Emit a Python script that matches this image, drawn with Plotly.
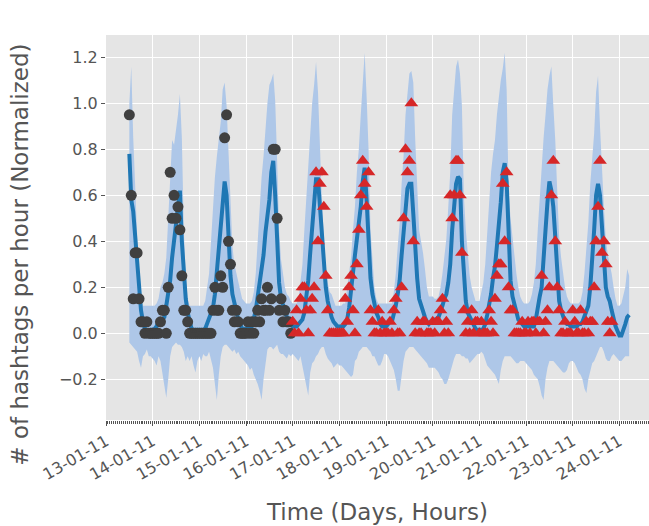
import plotly.graph_objects as go
import pandas as pd

# ---------------- data ----------------
# hourly series starting 2011-01-13 12:00
mean_vals = [
    # 13-01 (12h-23h)
    0.78, 0.58, 0.53, 0.42, 0.28, 0.17, 0.10, 0.05, 0.02, 0.015, 0.01, 0.015,
    # 14-01
    0.015, 0.02, 0.03, 0.05, 0.06, 0.06, 0.07, 0.12, 0.17, 0.23, 0.33, 0.40,
    0.46, 0.55, 0.62, 0.40, 0.26, 0.15, 0.09, 0.05, 0.02, 0.015, 0.015, 0.015,
    # 15-01
    0.015, 0.015, 0.015, 0.02, 0.04, 0.06, 0.08, 0.11, 0.17, 0.27, 0.37, 0.46,
    0.55, 0.66, 0.60, 0.41, 0.25, 0.17, 0.13, 0.09, 0.06, 0.04, 0.02, 0.02,
    # 16-01
    0.02, 0.02, 0.02, 0.03, 0.06, 0.10, 0.16, 0.22, 0.28, 0.34, 0.44, 0.50,
    0.58, 0.70, 0.75, 0.60, 0.38, 0.22, 0.15, 0.12, 0.09, 0.07, 0.05, 0.04,
    # 17-01
    0.03, 0.03, 0.03, 0.04, 0.05, 0.06, 0.09, 0.15, 0.23, 0.35, 0.46, 0.58,
    0.67, 0.67, 0.54, 0.43, 0.28, 0.20, 0.14, 0.10, 0.07, 0.05, 0.04, 0.03,
    # 18-01
    0.03, 0.03, 0.03, 0.04, 0.06, 0.11, 0.20, 0.26, 0.34, 0.41, 0.48, 0.55,
    0.66, 0.72, 0.58, 0.41, 0.24, 0.17, 0.12, 0.09, 0.07, 0.04, 0.03, 0.03,
    # 19-01
    0.03, 0.04, 0.05, 0.05, 0.08, 0.12, 0.17, 0.23, 0.34, 0.43, 0.55, 0.63,
    0.65, 0.65, 0.52, 0.35, 0.24, 0.15, 0.12, 0.09, 0.07, 0.05, 0.04, 0.05,
    # 20-01
    0.05, 0.06, 0.06, 0.07, 0.09, 0.12, 0.15, 0.17, 0.22, 0.30, 0.45, 0.58,
    0.65, 0.68, 0.67, 0.40, 0.25, 0.14, 0.09, 0.07, 0.05, 0.03, 0.02, 0.015,
    # 21-01
    0.015, 0.015, 0.02, 0.04, 0.08, 0.12, 0.17, 0.24, 0.29, 0.38, 0.47, 0.57,
    0.70, 0.74, 0.66, 0.38, 0.23, 0.16, 0.12, 0.09, 0.06, 0.05, 0.04, 0.03,
    # 22-01
    0.03, 0.03, 0.03, 0.03, 0.03, 0.06, 0.12, 0.16, 0.20, 0.30, 0.45, 0.57,
    0.66, 0.62, 0.55, 0.42, 0.26, 0.14, 0.10, 0.07, 0.05, 0.04, 0.04, 0.03,
    # 23-01
    0.03, 0.03, 0.03, 0.04, 0.04, 0.05, 0.07, 0.10, 0.12, 0.20, 0.30, 0.45,
    0.60, 0.65, 0.60, 0.44, 0.30, 0.20, 0.16, 0.14, 0.10, 0.06, 0.03, 0.01,
    # 24-01 (0h-5h)
    -0.01, -0.01, 0.01, 0.04, 0.07, 0.08,
]

upper_vals = [
    1.00, 1.16, 0.85, 0.62, 0.45, 0.22, 0.15, 0.12, 0.12, 0.12, 0.12, 0.12,
    0.12, 0.12, 0.13, 0.15, 0.20, 0.22, 0.26, 0.33, 0.50, 0.70, 0.84, 0.82,
    0.88, 0.95, 1.04, 0.85, 0.45, 0.25, 0.15, 0.12, 0.12, 0.12, 0.12, 0.12,
    0.12, 0.12, 0.12, 0.14, 0.20, 0.26, 0.40, 0.55, 0.68, 0.77, 0.85, 0.92,
    1.06, 1.09, 0.99, 0.80, 0.55, 0.38, 0.30, 0.26, 0.22, 0.19, 0.15, 0.14,
    0.13, 0.13, 0.13, 0.14, 0.18, 0.26, 0.40, 0.55, 0.68, 0.77, 0.90, 1.00,
    1.08, 1.10, 1.13, 1.01, 0.75, 0.45, 0.32, 0.26, 0.20, 0.17, 0.16, 0.14,
    0.13, 0.13, 0.13, 0.15, 0.24, 0.30, 0.45, 0.60, 0.72, 0.90, 1.00, 1.08,
    1.18, 1.05, 0.80, 0.58, 0.42, 0.28, 0.22, 0.18, 0.17, 0.14, 0.12, 0.12,
    0.12, 0.12, 0.13, 0.13, 0.20, 0.26, 0.33, 0.45, 0.55, 0.70, 0.80, 0.95,
    1.10, 1.22, 1.03, 0.80, 0.45, 0.30, 0.20, 0.15, 0.13, 0.13, 0.13, 0.13,
    0.13, 0.13, 0.13, 0.13, 0.18, 0.26, 0.38, 0.48, 0.65, 0.77, 0.95, 1.06,
    1.13, 1.14, 1.09, 0.84, 0.60, 0.45, 0.40, 0.35, 0.28, 0.20, 0.16, 0.16,
    0.16, 0.15, 0.15, 0.16, 0.20, 0.26, 0.33, 0.41, 0.55, 0.70, 0.95, 1.06,
    1.16, 1.19, 1.13, 0.99, 0.60, 0.45, 0.33, 0.25, 0.20, 0.17, 0.14, 0.14,
    0.14, 0.18, 0.22, 0.30, 0.45, 0.55, 0.70, 0.78, 0.84, 0.95, 1.03, 1.10,
    1.15, 1.22, 1.06, 0.62, 0.50, 0.41, 0.33, 0.26, 0.20, 0.16, 0.14, 0.13,
    0.13, 0.13, 0.14, 0.17, 0.22, 0.30, 0.45, 0.60, 0.70, 0.85, 0.95, 1.06,
    1.12, 1.16, 0.99, 0.84, 0.62, 0.42, 0.33, 0.26, 0.20, 0.16, 0.14, 0.13,
    0.13, 0.13, 0.13, 0.13, 0.14, 0.18, 0.26, 0.38, 0.48, 0.65, 0.75, 0.87,
    1.05, 1.12, 0.90, 0.70, 0.55, 0.41, 0.34, 0.30, 0.26, 0.20, 0.15, 0.12,
    0.12, 0.13, 0.16, 0.20, 0.28, 0.25,
]

lower_vals = [
    -0.04, -0.05, -0.06, -0.07, -0.08, -0.12, -0.15, -0.10, -0.09, -0.07, -0.10, -0.10,
    -0.11, -0.12, -0.14, -0.10, -0.12, -0.18, -0.22, -0.28, -0.20, -0.10, -0.06, -0.05,
    -0.04, -0.05, -0.05, -0.06, -0.08, -0.12, -0.10, -0.12, -0.10, -0.14, -0.17, -0.12,
    -0.10, -0.12, -0.09, -0.10, -0.10, -0.08, -0.12, -0.15, -0.22, -0.29, -0.18, -0.10,
    -0.06, -0.05, -0.05, -0.06, -0.07, -0.08, -0.07, -0.09, -0.08, -0.10, -0.11, -0.12,
    -0.13, -0.14, -0.16, -0.15, -0.18, -0.20, -0.22, -0.25, -0.29, -0.20, -0.12, -0.07,
    -0.06, -0.06, -0.07, -0.06, -0.05, -0.08, -0.09, -0.09, -0.10, -0.11, -0.09, -0.10,
    -0.09, -0.10, -0.11, -0.12, -0.10, -0.14, -0.18, -0.22, -0.27, -0.17, -0.13, -0.12,
    -0.10, -0.09, -0.07, -0.06, -0.06, -0.09, -0.11, -0.12, -0.13, -0.15, -0.14, -0.13,
    -0.14, -0.14, -0.15, -0.16, -0.17, -0.18, -0.19, -0.18, -0.12, -0.11, -0.08, -0.07,
    -0.06, -0.06, -0.06, -0.07, -0.08, -0.10, -0.10, -0.12, -0.14, -0.14, -0.12, -0.09,
    -0.09, -0.10, -0.12, -0.14, -0.16, -0.20, -0.25, -0.25, -0.18, -0.12, -0.08, -0.07,
    -0.06, -0.06, -0.06, -0.07, -0.08, -0.09, -0.10, -0.11, -0.12, -0.13, -0.15, -0.15,
    -0.15, -0.15, -0.16, -0.17, -0.19, -0.20, -0.22, -0.22, -0.20, -0.17, -0.13, -0.11,
    -0.09, -0.09, -0.09, -0.10, -0.10, -0.11, -0.11, -0.13, -0.12, -0.11, -0.10, -0.09,
    -0.09, -0.08, -0.09, -0.12, -0.14, -0.15, -0.16, -0.17, -0.18, -0.20, -0.22, -0.16,
    -0.12, -0.10, -0.10, -0.10, -0.10, -0.11, -0.12, -0.13, -0.13, -0.12, -0.12, -0.12,
    -0.13, -0.14, -0.15, -0.16, -0.18, -0.19, -0.20, -0.23, -0.27, -0.29, -0.20, -0.15,
    -0.12, -0.12, -0.12, -0.13, -0.14, -0.15, -0.16, -0.17, -0.17, -0.16, -0.13, -0.12,
    -0.12, -0.13, -0.15, -0.17, -0.18, -0.20, -0.24, -0.26, -0.20, -0.16, -0.13, -0.12,
    -0.10, -0.08, -0.06, -0.06, -0.08, -0.11, -0.12, -0.12, -0.10, -0.09, -0.10, -0.11,
    -0.12, -0.12, -0.11, -0.10, -0.10, -0.10,
]

# observed (training) points, hourly from 2011-01-13 12:00
observed_vals = [
    0.95, 0.6, 0.15, 0.35, 0.35, 0.15, 0.05, 0.05, 0.0, 0.05, 0.0, 0.0,
    0.0, 0.0, 0.0, 0.0, 0.05, 0.1, 0.1, 0.0, 0.2, 0.7, 0.5, 0.6,
    0.5, 0.55, 0.45, 0.25, 0.1, 0.1, 0.05, 0.0, 0.0, 0.0, 0.0, 0.0,
    0.0, 0.0, 0.0, 0.0, 0.0, 0.0, 0.0, 0.1, 0.2, 0.1, 0.1, 0.25,
    0.2, 0.85, 0.95, 0.4, 0.3, 0.1, 0.05, 0.1, 0.05, 0.0, 0.0, 0.0,
    0.0, 0.05, 0.0, 0.05, 0.0, 0.05, 0.1, 0.05, 0.15, 0.1, 0.1, 0.2,
    0.1, 0.15, 0.8, 0.8, 0.5, 0.1, 0.15, 0.05, 0.1, 0.05, 0.05, 0.0,
]

# test points, hourly from 2011-01-17 00:00
test_vals = [
    0.05, 0.0, 0.1, 0.0, 0.15, 0.2, 0.2, 0.1, 0.0, 0.1, 0.15, 0.2,
    0.7, 0.4, 0.65, 0.7, 0.55, 0.25, 0.1, 0.0, 0.0, 0.0, 0.0, 0.0,
    0.0, 0.0, 0.0, 0.15, 0.05, 0.2, 0.25, 0.1, 0.0, 0.3, 0.45, 0.6,
    0.75, 0.65, 0.55, 0.7, 0.1, 0.05, 0.0, 0.0, 0.1, 0.0, 0.05, 0.0,
    0.0, 0.0, 0.05, 0.0, 0.1, 0.15, 0.0, 0.0, 0.2, 0.5, 0.8, 0.7,
    0.75, 1.0, 0.4, 0.0, 0.05, 0.0, 0.0, 0.05, 0.05, 0.0, 0.0, 0.0,
    0.05, 0.0, 0.05, 0.05, 0.1, 0.15, 0.0, 0.05, 0.0, 0.6, 0.5, 0.6,
    0.75, 0.75, 0.6, 0.35, 0.1, 0.0, 0.05, 0.0, 0.1, 0.0, 0.05, 0.05,
    0.0, 0.05, 0.0, 0.0, 0.0, 0.1, 0.05, 0.0, 0.15, 0.25, 0.3, 0.3,
    0.65, 0.4, 0.7, 0.2, 0.1, 0.1, 0.0, 0.0, 0.0, 0.0, 0.05, 0.0,
    0.0, 0.05, 0.0, 0.05, 0.05, 0.0, 0.05, 0.05, 0.25, 0.0, 0.05, 0.1,
    0.2, 0.6, 0.75, 0.4, 0.2, 0.1, 0.0, 0.0, 0.05, 0.0, 0.0, 0.0,
    0.1, 0.05, 0.0, 0.0, 0.1, 0.0, 0.0, 0.05, 0.0, 0.05, 0.05, 0.2,
    0.4, 0.55, 0.75, 0.35, 0.4, 0.3, 0.05, 0.0, 0.05,
]

series_start = "2011-01-13 12:00"
test_start = "2011-01-17 00:00"
day_tick_start = "2011-01-13"

t_all = pd.date_range(series_start, periods=len(mean_vals), freq="h")
t_obs = pd.date_range(series_start, periods=len(observed_vals), freq="h")
t_test = pd.date_range(test_start, periods=len(test_vals), freq="h")

FONT = "DejaVu Sans"
TXT = "#555555"

fig = go.Figure()
fig.add_trace(go.Scatter(x=t_all, y=lower_vals, mode="lines", line=dict(width=0),
                         showlegend=False, hoverinfo="skip"))
fig.add_trace(go.Scatter(x=t_all, y=upper_vals, mode="lines", line=dict(width=0),
                         fill="tonexty", fillcolor="#aec7e8", showlegend=False,
                         hoverinfo="skip"))
fig.add_trace(go.Scatter(x=t_all, y=mean_vals, mode="lines",
                         line=dict(color="#1f77b4", width=4), showlegend=False))
fig.add_trace(go.Scatter(x=t_obs, y=observed_vals, mode="markers",
                         marker=dict(symbol="circle", size=11, color="#404040"),
                         showlegend=False))
fig.add_trace(go.Scatter(x=t_test, y=test_vals, mode="markers",
                         marker=dict(symbol="triangle-up", size=12, color="#d62728"),
                         showlegend=False))

fig.update_layout(
    width=649, height=526,
    margin=dict(l=106, r=0, t=35, b=106),
    paper_bgcolor="white",
    plot_bgcolor="#e5e5e5",
    font=dict(family=FONT, size=16, color=TXT),
    showlegend=False,
    annotations=[dict(
        text="# of hashtags per hour (Normalized)",
        xref="paper", yref="paper", x=-0.158, y=0.43,
        xanchor="center", yanchor="middle", textangle=-90, showarrow=False,
        font=dict(family=FONT, size=23, color=TXT),
    )],
)

fig.update_xaxes(
    type="date", automargin=False,
    range=["2011-01-13 00:00", "2011-01-24 15:12"],
    tick0=day_tick_start, dtick=86400000,
    tickformat="%d-%m-%y", tickangle=-30,
    ticks="outside", ticklen=5, tickwidth=1, tickcolor=TXT,
    minor=dict(dtick=3600000, ticks="outside", ticklen=2.5, tickcolor=TXT, showgrid=False),
    showgrid=True, gridcolor="white", gridwidth=1.3,
    tickfont=dict(size=16, color=TXT),
    title=dict(text="Time (Days, Hours)", font=dict(size=23, color=TXT), standoff=20),
    showline=False, zeroline=False,
)
fig.update_yaxes(
    automargin=False,
    range=[-0.377, 1.297],
    tick0=0, dtick=0.2, tickformat=".1f",
    ticks="outside", ticklen=4, tickwidth=1, tickcolor=TXT,
    showgrid=True, gridcolor="white", gridwidth=1.3,
    tickfont=dict(size=16, color=TXT),
    showline=False, zeroline=False,
)

fig.write_html(
    "out.html",
    config={"displayModeBar": False},
    post_script="document.body.style.margin='0';document.body.style.overflow='hidden';",
)
